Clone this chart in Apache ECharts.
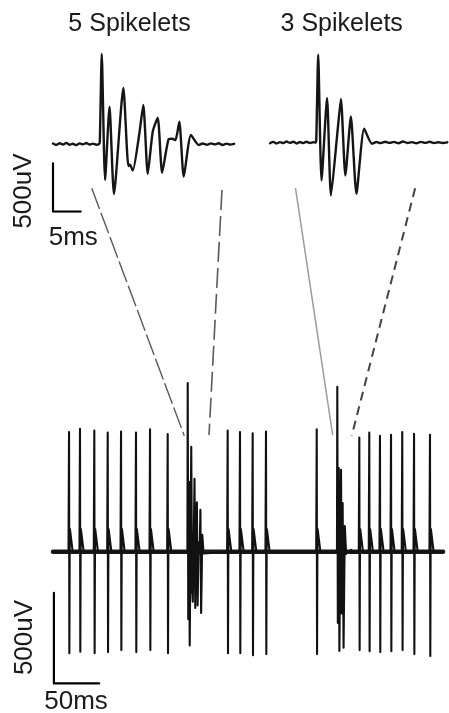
<!DOCTYPE html>
<html><head><meta charset="utf-8">
<script src="https://cdn.jsdelivr.net/npm/echarts@6/dist/echarts.min.js"></script>
<style>html,body{margin:0;padding:0;background:#fff}#c{width:449px;height:713px}</style>
</head><body><div id="c"></div>
<script>
// ---------------- data ----------------
const titles = ['5 Spikelets', '3 Spikelets'];

// zoomed burst with 5 spikelets (time ms, voltage uV)
const burst5T = [0, 0.6, 1.2, 1.8, 2.4, 3.0, 3.6, 4.2, 4.8, 5.4, 6.0, 6.6, 7.2, 7.8, 8.3,
  8.45, 8.8, 9.4, 10.2, 11.0, 12.7, 13.6, 13.9, 14.4, 15.6, 16.3, 17.1, 18.0, 18.9, 19.7,
  20.9, 21.5, 22.1, 22.8, 23.6, 24.9, 26.3,
  27.0, 27.8, 28.5, 29.2, 29.9, 30.6, 31.3, 32.0, 32.7];
const burst5V = [5, -10, 8, -5, 12, -8, 3, -12, 6, -4, 10, -6, 4, -8, 0,
  20, 931, -372, 386, -517, 579, -228, -215, -276, 114, 403, -310, 127, 272, -297,
  52, 55, 40, 231, -338, 93, -10,
  5, -8, 6, -4, 8, -10, 4, -6, 2];

// zoomed burst with 3 spikelets
const burst3T = [0, 0.6, 1.2, 1.8, 2.4, 3.0, 3.6, 4.2, 4.8, 5.4, 6.0, 6.6, 7.2, 7.8, 8.2,
  8.35, 8.7, 9.3, 10.3, 11.0, 12.2, 12.8, 13.6, 14.6, 15.6, 17.0, 18.4,
  19.2, 20.0, 20.8, 21.6, 22.4, 23.2, 24.0, 24.8, 25.6, 26.4, 27.2, 28.0, 28.8, 29.6, 30.4, 31.2, 32.0];
const burst3V = [-8, 6, -10, 4, -6, 10, -4, 8, -10, 5, -6, 8, -5, 3, 0,
  20, 910, -393, 462, -548, 124, 452, -341, 269, -530, 142, -13,
  5, -6, 8, -4, 6, -8, 10, -5, 4, -8, 6, -4, 8, -6, 3, -5, 2];

// long recording: single spikes (ms, uV)
const spikeTimes   = [17.7, 29.8, 45.6, 60.4, 75.1, 91.6, 107.1, 126.6, 192.8, 206.4, 220.4, 235.1, 291.1, 338.1, 349.1, 360.9, 373.1, 385.5, 398.5, 416.1];
const spikePeaks   = [660, 678, 668, 657, 663, 657, 676, 649, 668, 660, 654, 663, 676, 630, 657, 639, 645, 660, 650, 645];
const spikeTroughs = [-560, -552, -560, -554, -543, -554, -543, -560, -560, -560, -571, -565, -565, -543, -549, -554, -549, -543, -565, -576];
const spikeAfterBump = 125;                       // uV after-potential of each spike
const spikeShapeDt = [-0.6, 0, 0.35, 0.7, 1.0, 4.0]; // ms offsets of spike shape points
const burstPeakTimes = [148.7, 313.8];            // ms, main peak of each burst in long trace
const traceEnd = 430.5;                           // ms

// scale bars
const scaleUV = 500, scaleMsTop = 5, scaleMsBottom = 50;
const scaleLabels = ['500uV', '5ms', '50ms'];

// zoom connector endpoints: [gridIndexTop, [ms, uV] top, [ms, uV] bottom]
const zoomLinks = [
  [0, [7.0, -459], [144.9, 640]],
  [0, [30.5, -476], [172.2, 644]],
  [1, [4.6, -471], [308.7, 644]],
  [1, [26.2, -474], [329.7, 640]]
];

// ---------------- build ----------------
const zip = (T, V) => T.map((t, i) => [t, V[i]]);
const events = [];
spikeTimes.forEach((t, i) => {
  const vals = [0, spikePeaks[i], spikeTroughs[i], 0, spikeAfterBump, 0];
  events.push(spikeShapeDt.map((d, k) => [t + d, vals[k]]));
});
[[burst5T, burst5V], [burst3T, burst3V]].forEach(([T, V], b) => {
  const pk = T[V.indexOf(Math.max(...V))];
  const shift = burstPeakTimes[b] - pk;
  const pts = [];
  T.forEach((t, i) => { if (t >= pk - 0.6 && t <= pk + 18) pts.push([t + shift, V[i]]); });
  events.push(pts);
});
events.sort((a, b) => a[0][0] - b[0][0]);
const longTrace = [[0, 0]].concat(...events, [[traceEnd, 0]]);

// layout (px per unit)
const pxMsTop = 5.54, pxUVTop = 0.0966, pxMsBot = 0.906, pxUVBot = 0.1812;
const topMin = -700, topMax = 1100, botMin = -800, botMax = 1000;
const FONT = "'Liberation Sans', Arial, Helvetica, sans-serif";

const chart = echarts.init(document.getElementById('c'), null, {renderer: 'canvas'});
const lineS = (xi, data, w, color, smooth) => ({
  type: 'line', xAxisIndex: xi, yAxisIndex: xi, data, showSymbol: false, symbol: 'none',
  smooth: smooth || false,
  lineStyle: {width: w, color, join: 'round', cap: 'round'}, silent: true, animation: false, z: 3
});
const tl = zip(burst5T, burst5V), tr = zip(burst3T, burst3V);
chart.setOption({
  backgroundColor: '#fff',
  animation: false,
  grid: [
    {left: 53, top: 144 - topMax * pxUVTop, width: 33 * pxMsTop, height: (topMax - topMin) * pxUVTop},
    {left: 270, top: 142.5 - topMax * pxUVTop, width: 32 * pxMsTop, height: (topMax - topMin) * pxUVTop},
    {left: 53, top: 551.7 - botMax * pxUVBot, width: traceEnd * pxMsBot, height: (botMax - botMin) * pxUVBot}
  ],
  xAxis: [
    {gridIndex: 0, type: 'value', min: 0, max: 33, show: false},
    {gridIndex: 1, type: 'value', min: 0, max: 32, show: false},
    {gridIndex: 2, type: 'value', min: 0, max: traceEnd, show: false}
  ],
  yAxis: [
    {gridIndex: 0, type: 'value', min: topMin, max: topMax, show: false},
    {gridIndex: 1, type: 'value', min: topMin, max: topMax, show: false},
    {gridIndex: 2, type: 'value', min: botMin, max: botMax, show: false}
  ],
  series: [
    lineS(0, tl, 2.4, '#151515', 0.2),
    lineS(1, tr, 2.4, '#151515', 0.2),
    lineS(0, [[0, topMin + scaleUV], [0, topMin], [scaleMsTop, topMin]], 2.2, '#000'),
    Object.assign(lineS(2, [[0, 0], [traceEnd, 0]], 4.5, '#1c1c1c'), {z: 2}),
    lineS(2, longTrace, 2.1, '#111'),
    lineS(2, [[1, -727 + scaleUV], [1, -727], [1 + scaleMsBottom, -727]], 2.2, '#000')
  ]
});

const g = [];
zoomLinks.forEach(([gi, a, b], k) => {
  const p1 = chart.convertToPixel({gridIndex: gi}, a);
  const p2 = chart.convertToPixel({gridIndex: 2}, b);
  const styles = [
    {stroke: '#5a5a5a', lineWidth: 1.4, lineDash: [22, 4]},
    {stroke: '#5a5a5a', lineWidth: 1.6, lineDash: [20, 6]},
    {stroke: '#9a9a9a', lineWidth: 1.5},
    {stroke: '#444', lineWidth: 2, lineDash: [9, 6]}
  ];
  g.push({type: 'line', shape: {x1: p1[0], y1: p1[1], x2: p2[0], y2: p2[1]}, style: styles[k], silent: true, z: 1});
});
const txt = (text, x, y, size, rot) => ({
  type: 'text', x, y, rotation: rot || 0, silent: true, z: 5,
  style: {text, fill: '#1a1a1a', font: size + 'px ' + FONT, align: 'center', verticalAlign: 'middle'}
});
g.push(txt(titles[0], 129.5, 24, 25));
g.push(txt(titles[1], 341.7, 24, 25));
g.push(txt(scaleLabels[0], 24, 191, 26, Math.PI / 2));
g.push(txt(scaleLabels[1], 73.3, 238, 26));
g.push(txt(scaleLabels[0], 25, 637.5, 26, Math.PI / 2));
g.push(txt(scaleLabels[2], 76, 701.5, 26));
chart.setOption({graphic: {elements: g}});
</script>
</body></html>
